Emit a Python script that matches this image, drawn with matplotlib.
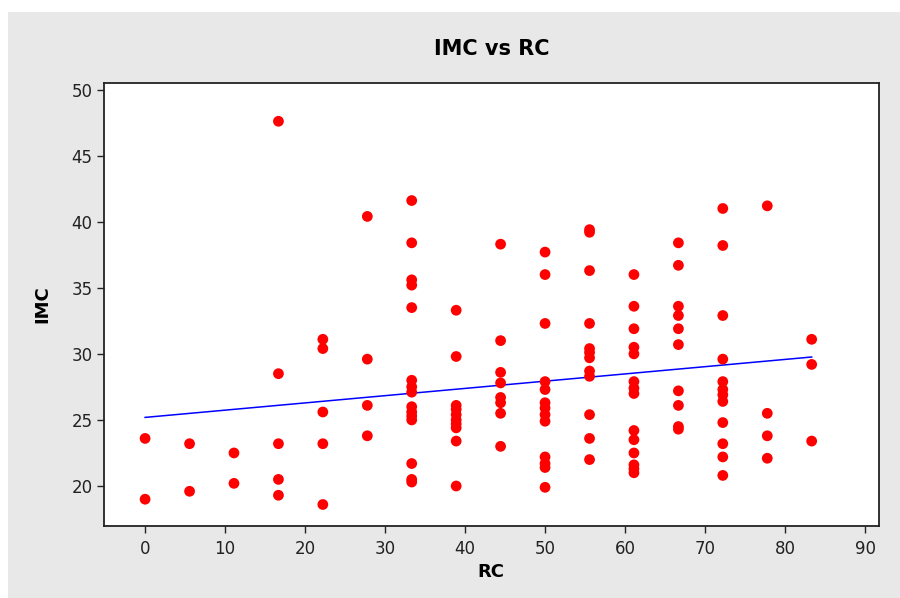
import numpy as np
import matplotlib
matplotlib.use('Agg')
import matplotlib.pyplot as plt
from matplotlib.patches import Rectangle

# RC levels (x) and the IMC readings taken at each level
rc_levels = [0, 5.56, 11.11, 16.67, 22.22, 27.78, 33.33, 38.89,
             44.44, 50, 55.56, 61.11, 66.67, 72.22, 77.78, 83.33]

imc_groups = [
    [23.6, 19.0],
    [23.2, 19.6],
    [22.5, 20.2],
    [47.6, 28.5, 23.2, 20.5, 19.3],
    [31.1, 30.4, 25.6, 23.2, 18.6],
    [40.4, 29.6, 26.1, 23.8],
    [41.6, 38.4, 35.6, 35.2, 33.5, 28.0, 27.5, 27.1, 26.0, 25.6, 25.3, 25.0, 21.7, 20.5, 20.3],
    [33.3, 29.8, 26.1, 25.8, 25.4, 25.0, 24.7, 24.4, 23.4, 20.0],
    [38.3, 31.0, 28.6, 27.8, 26.7, 26.3, 25.5, 23.0],
    [37.7, 36.0, 32.3, 27.9, 27.3, 26.3, 25.9, 25.4, 24.9, 22.2, 21.7, 21.4, 19.9],
    [39.4, 39.2, 36.3, 32.3, 30.4, 30.1, 29.7, 28.7, 28.3, 25.4, 23.6, 22.0],
    [36.0, 33.6, 31.9, 30.5, 30.0, 27.9, 27.4, 27.0, 24.2, 23.5, 22.5, 21.6, 21.3, 21.0],
    [38.4, 36.7, 33.6, 32.9, 31.9, 30.7, 27.2, 26.1, 24.5, 24.3],
    [41.0, 38.2, 32.9, 29.6, 27.9, 27.3, 26.9, 26.4, 24.8, 23.2, 22.2, 20.8],
    [41.2, 25.5, 23.8, 22.1],
    [31.1, 29.2, 23.4],
]

rc = []
imc = []
for level, group in zip(rc_levels, imc_groups):
    rc += [level] * len(group)
    imc += group
rc = np.array(rc)
imc = np.array(imc)

# least squares line
slope, intercept = np.polyfit(rc, imc, 1)
fit_x = np.array([rc.min(), rc.max()])
fit_y = intercept + slope * fit_x

fig = plt.figure(figsize=(9, 5.98), dpi=100, facecolor='white')
fig.patches.append(Rectangle((8 / 900, 0), 1, 1 - 12 / 598, transform=fig.transFigure,
                             facecolor='#e8e8e8', edgecolor='none', zorder=-10))

ax = fig.add_axes([0.115, 0.121, 0.8617, 0.7403])
ax.set_facecolor('white')

ax.scatter(rc, imc, s=60, color='#ff0000', marker='o', edgecolors='none', zorder=3)
ax.plot(fit_x, fit_y, color='#0000ff', linewidth=1.1, zorder=2)

ax.set_xlim(-5.2, 91.75)
ax.set_ylim(17.0, 50.5)
ax.set_xticks(range(0, 91, 10))
ax.set_yticks(range(20, 51, 5))
ax.tick_params(direction='out', length=5, width=1, pad=3, labelsize=12, colors='#222222')
ax.tick_params(axis='x', pad=5)
for side in ax.spines.values():
    side.set_linewidth(1.3)
    side.set_color('#222222')

ax.set_title('IMC vs RC', fontsize=15, fontweight='bold', pad=20)
ax.set_xlabel('RC', fontsize=13, fontweight='bold', labelpad=4)
ax.set_ylabel('IMC', fontsize=13, fontweight='bold', labelpad=14)

fig.savefig('out.png', dpi=100, facecolor=fig.get_facecolor())
